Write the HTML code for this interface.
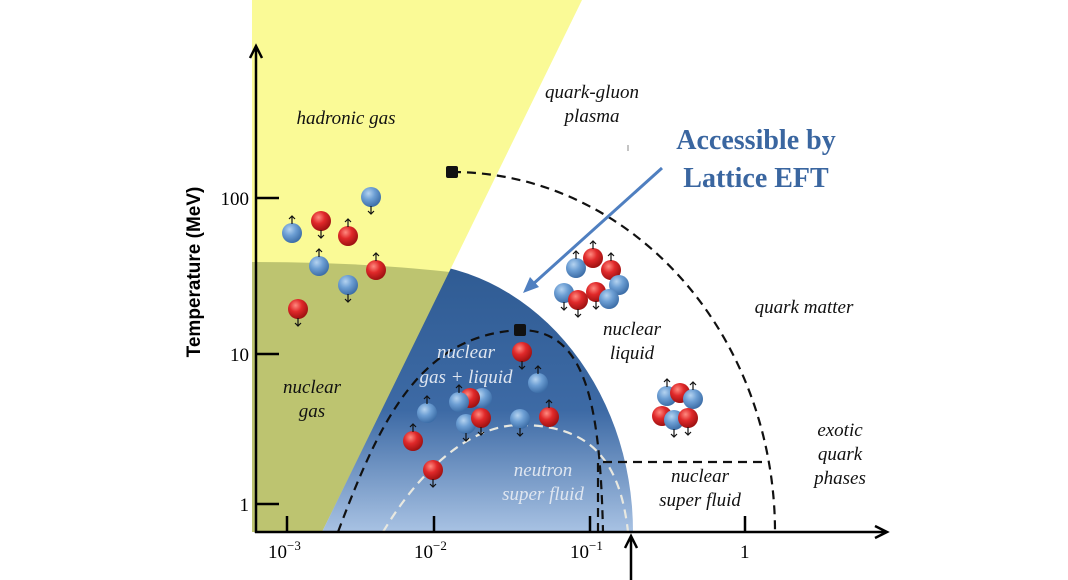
<!DOCTYPE html>
<html><head><meta charset="utf-8"><style>
html,body{margin:0;padding:0;background:#fff;}
svg{display:block;}
</style></head><body>
<svg width="1068" height="580" viewBox="0 0 1068 580" xmlns="http://www.w3.org/2000/svg">
<defs>
<radialGradient id="rb" cx="0.38" cy="0.32" r="0.7">
<stop offset="0" stop-color="#b5d3f0"/><stop offset="0.45" stop-color="#6d9fd4"/><stop offset="1" stop-color="#3b6ca6"/></radialGradient>
<radialGradient id="rr" cx="0.38" cy="0.32" r="0.7">
<stop offset="0" stop-color="#ff8a80"/><stop offset="0.45" stop-color="#e0292a"/><stop offset="1" stop-color="#9c1010"/></radialGradient>
<linearGradient id="bl" x1="0" y1="0" x2="0" y2="1">
<stop offset="0" stop-color="#2f5b93"/><stop offset="0.55" stop-color="#3d6aa5"/><stop offset="1" stop-color="#a8c2e3"/></linearGradient>
<clipPath id="right"><polygon points="582,0 1068,0 1068,532 322,532"/></clipPath>
<g id="pu"><path d="M0,-9 V-17 M-3,-14 L0,-17 L3,-14" stroke="#111" stroke-width="1.2" fill="none"/></g>
<g id="pd"><path d="M0,9 V17 M-3,14 L0,17 L3,14" stroke="#111" stroke-width="1.2" fill="none"/></g>
<g id="B"><circle r="10" fill="url(#rb)"/></g>
<g id="R"><circle r="10" fill="url(#rr)"/></g>
</defs>

<!-- yellow wedge -->
<polygon points="252,0 582,0 322,532 252,532" fill="#fafa96"/>
<!-- green -->
<path d="M252,262 Q360,262 450,272 L322,532 L252,532 Z" fill="#bdc470"/>
<!-- blue dome -->
<path d="M400,532 L400,262 A233,270 0 0 1 633,532 Z" fill="url(#bl)" clip-path="url(#right)"/>
<path d="M260,532 L450,272 L400,262 Z" fill="none"/>
<g clip-path="url(#right)"><path d="M300,532 L300,262 L400,262 L400,532Z" fill="url(#bl)"/></g>

<!-- dashed curves -->
<path d="M452,172 A323,360 0 0 1 775,532" fill="none" stroke="#111" stroke-width="2.2" stroke-dasharray="9,6"/>
<path d="M338,532 C380,420 420,335 520,330 C585,330 600,400 603,532" fill="none" stroke="#111" stroke-width="2.2" stroke-dasharray="9,6"/>
<path d="M383,532 C420,470 470,425 520,425 C590,425 620,460 628,532" fill="none" stroke="#e8e8e0" stroke-width="2.2" stroke-dasharray="9,6"/>
<path d="M598,532 V462 H767" fill="none" stroke="#111" stroke-width="2.2" stroke-dasharray="9,6"/>
<rect x="446" y="166" width="12" height="12" rx="2" fill="#111"/>
<rect x="514" y="324" width="12" height="12" rx="2" fill="#111"/>

<!-- axes -->
<path d="M256,533 V47 M250,58 L256,46 L262,58" stroke="#000" stroke-width="2.5" fill="none"/>
<path d="M255,532 H886 M875,526 L887,532 L875,538" stroke="#000" stroke-width="2.5" fill="none"/>
<path d="M256,198 H279 M256,354 H279 M256,504 H279" stroke="#000" stroke-width="2.5"/>
<path d="M287,532 V516 M434,532 V516 M590,532 V516 M745,532 V516" stroke="#000" stroke-width="2.5"/>
<path d="M631,580 V537 M625,548 L631,536 L637,548" stroke="#000" stroke-width="2.5" fill="none"/>
<text x="626" y="590" font-family="Liberation Serif, serif" font-size="20" font-style="italic">ρ</text>

<g font-family="Liberation Serif, serif" font-size="19" fill="#000">
<text x="249" y="205" text-anchor="end">100</text>
<text x="249" y="361" text-anchor="end">10</text>
<text x="249" y="511" text-anchor="end">1</text>
<text x="268" y="558">10<tspan font-size="13" dy="-8">−3</tspan></text>
<text x="414" y="558">10<tspan font-size="13" dy="-8">−2</tspan></text>
<text x="570" y="558">10<tspan font-size="13" dy="-8">−1</tspan></text>
<text x="740" y="558">1</text>
</g>
<text transform="translate(200,272) rotate(-90)" text-anchor="middle" font-family="Liberation Sans, sans-serif" font-weight="bold" font-size="19">Temperature  (MeV)</text>

<!-- region labels -->
<g font-family="Liberation Serif, serif" font-style="italic" font-size="19" text-anchor="middle" fill="#111">
<text x="346" y="124">hadronic gas</text>
<text x="592" y="98">quark-gluon</text>
<text x="592" y="122">plasma</text>
<text x="804" y="313">quark matter</text>
<text x="632" y="335">nuclear</text>
<text x="632" y="359">liquid</text>
<text x="312" y="393">nuclear</text>
<text x="312" y="417">gas</text>
<text x="840" y="436">exotic</text>
<text x="840" y="460">quark</text>
<text x="840" y="484">phases</text>
<text x="700" y="482">nuclear</text>
<text x="700" y="506">super fluid</text>
</g>
<g font-family="Liberation Serif, serif" font-style="italic" font-size="19" text-anchor="middle" fill="#dfe6f0">
<text x="466" y="358">nuclear</text>
<text x="466" y="383">gas + liquid</text>
<text x="543" y="476">neutron</text>
<text x="543" y="500">super fluid</text>
</g>

<!-- accessible label -->
<g font-family="Liberation Serif, serif" font-weight="bold" font-size="28" fill="#3a66a0" text-anchor="middle">
<text x="756" y="149">Accessible by</text>
<text x="756" y="187">Lattice EFT</text>
</g>
<path d="M662,168 L532,285" stroke="#4f7fc0" stroke-width="3"/>
<path d="M523,293 L530,277 L539,287 Z" fill="#4f7fc0"/>
<path d="M628,145 V151" stroke="#888" stroke-width="1"/>

<!-- particles -->
<g>
<use href="#B" x="371" y="197"/><use href="#pd" x="371" y="197"/>
<use href="#R" x="321" y="221"/><use href="#pd" x="321" y="221"/>
<use href="#B" x="292" y="233"/><use href="#pu" x="292" y="233"/>
<use href="#R" x="348" y="236"/><use href="#pu" x="348" y="236"/>
<use href="#B" x="319" y="266"/><use href="#pu" x="319" y="266"/>
<use href="#R" x="376" y="270"/><use href="#pu" x="376" y="270"/>
<use href="#B" x="348" y="285"/><use href="#pd" x="348" y="285"/>
<use href="#R" x="298" y="309"/><use href="#pd" x="298" y="309"/>

<use href="#R" x="522" y="352"/><use href="#pd" x="522" y="352"/>
<use href="#B" x="538" y="383"/><use href="#pu" x="538" y="383"/>
<use href="#B" x="427" y="413"/><use href="#pu" x="427" y="413"/>
<use href="#B" x="482" y="398"/>
<use href="#R" x="470" y="398"/>
<use href="#B" x="459" y="402"/><use href="#pu" x="459" y="402"/>
<use href="#B" x="466" y="424"/><use href="#pd" x="466" y="424"/>
<use href="#R" x="481" y="418"/><use href="#pd" x="481" y="418"/>
<use href="#B" x="520" y="419"/><use href="#pd" x="520" y="419"/>
<use href="#R" x="549" y="417"/><use href="#pu" x="549" y="417"/>
<use href="#R" x="413" y="441"/><use href="#pu" x="413" y="441"/>
<use href="#R" x="433" y="470"/><use href="#pd" x="433" y="470"/>

<use href="#B" x="576" y="268"/><use href="#pu" x="576" y="268"/>
<use href="#R" x="593" y="258"/><use href="#pu" x="593" y="258"/>
<use href="#R" x="611" y="270"/><use href="#pu" x="611" y="270"/>
<use href="#B" x="619" y="285"/>
<use href="#B" x="564" y="293"/><use href="#pd" x="564" y="293"/>
<use href="#R" x="596" y="292"/><use href="#pd" x="596" y="292"/>
<use href="#R" x="578" y="300"/><use href="#pd" x="578" y="300"/>
<use href="#B" x="609" y="299"/>

<use href="#B" x="667" y="396"/><use href="#pu" x="667" y="396"/>
<use href="#R" x="680" y="393"/>
<use href="#B" x="693" y="399"/><use href="#pu" x="693" y="399"/>
<use href="#R" x="662" y="416"/>
<use href="#B" x="674" y="420"/><use href="#pd" x="674" y="420"/>
<use href="#R" x="688" y="418"/><use href="#pd" x="688" y="418"/>
</g>
</svg>
</body></html>
